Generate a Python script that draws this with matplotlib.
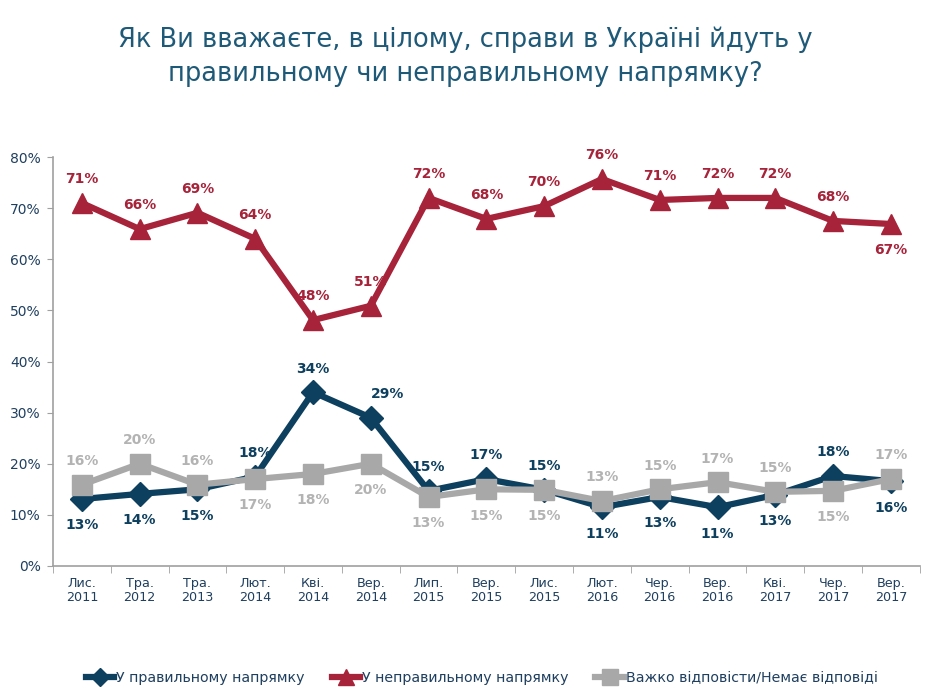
import matplotlib
matplotlib.use("Agg")
import matplotlib.pyplot as plt
from matplotlib.ticker import FixedLocator, PercentFormatter

categories = ["Лис.\n2011", "Тра.\n2012", "Тра.\n2013", "Лют.\n2014", "Кві.\n2014",
              "Вер.\n2014", "Лип.\n2015", "Вер.\n2015", "Лис.\n2015", "Лют.\n2016",
              "Чер.\n2016", "Вер.\n2016", "Кві.\n2017", "Чер.\n2017", "Вер.\n2017"]

right_vals = [13.1, 14.1, 15.0, 17.5, 34.0, 29.0, 14.7, 17.0, 14.9, 11.5, 13.5, 11.5, 13.9, 17.6, 16.6]
right_labels = [13, 14, 15, 18, 34, 29, 15, 17, 15, 11, 13, 11, 13, 18, 16]
right_pos = ["b", "b", "b", "a", "a", "ar", "a", "a", "a", "b", "b", "b", "b", "a", "b"]

wrong_vals = [71.0, 65.9, 69.1, 64.0, 48.1, 50.9, 72.0, 67.9, 70.4, 75.7, 71.6, 72.0, 72.0, 67.5, 66.9]
wrong_labels = [71, 66, 69, 64, 48, 51, 72, 68, 70, 76, 71, 72, 72, 68, 67]
wrong_pos = ["a"] * 14 + ["b"]

hard_vals = [15.9, 20.0, 15.9, 17.0, 18.0, 20.0, 13.5, 15.0, 14.9, 12.7, 15.0, 16.4, 14.5, 14.7, 17.0]
hard_labels = [16, 20, 16, 17, 18, 20, 13, 15, 15, 13, 15, 17, 15, 15, 17]
hard_pos = ["a", "a", "a", "b", "b", "b", "b", "b", "b", "a", "a", "a", "a", "b", "a"]

series_names = ["У правильному напрямку", "У неправильному напрямку",
                "Важко відповісти/Немає відповіді"]

BLUE = "#0D3F5E"
RED = "#A6233A"
GRAY = "#A8A8A8"
TXT = "#1F3F5F"
TITLE = "#1E5A78"

plt.rcParams["font.family"] = ["DejaVu Sans"]

fig = plt.figure(figsize=(9.3, 6.93), dpi=100)
ax = fig.add_axes([0.057, 0.1833, 0.932, 0.5901])

x = list(range(len(categories)))

ax.plot(x, right_vals, color=BLUE, lw=4.5, marker="D", ms=12, zorder=3,
        label=series_names[0], solid_joinstyle="miter")
ax.plot(x, wrong_vals, color=RED, lw=4.5, marker="^", ms=15, zorder=3,
        label=series_names[1], solid_joinstyle="miter")
ax.plot(x, hard_vals, color=GRAY, lw=4.5, marker="s", ms=15, zorder=4,
        label=series_names[2], solid_joinstyle="miter")

def annotate(vals, labels, pos, color):
    for i, (v, l, p) in enumerate(zip(vals, labels, pos)):
        dx = 0
        if p == "a":
            dy = 17
        elif p == "ar":
            dy = 17
            dx = 12
        else:
            dy = -19
        ax.annotate(f"{l}%", (i, v), xytext=(dx, dy), textcoords="offset points",
                    ha="center", va="center", color=color, fontsize=10,
                    fontweight="bold", zorder=6)

annotate(right_vals, right_labels, right_pos, BLUE)
annotate(wrong_vals, wrong_labels, wrong_pos, RED)
annotate(hard_vals, hard_labels, hard_pos, "#B3B3B3")

ax.set_xlim(-0.5, len(categories) - 0.5)
ax.set_ylim(0, 80)
ax.set_yticks(range(0, 81, 10))
ax.yaxis.set_major_formatter(PercentFormatter(decimals=0))
ax.set_xticks(x)
ax.set_xticklabels(categories, fontsize=9.2, color=TXT, linespacing=1.1)
ax.xaxis.set_minor_locator(FixedLocator([i - 0.5 for i in range(len(categories) + 1)]))
ax.tick_params(axis="x", which="major", length=0, pad=8)
ax.tick_params(axis="x", which="minor", length=5, color="#A0A0A0", direction="out")
ax.tick_params(axis="y", length=4, color="#A0A0A0", labelsize=10, labelcolor=TXT, pad=5)

for s in ["top", "right"]:
    ax.spines[s].set_visible(False)
for s in ["left", "bottom"]:
    ax.spines[s].set_color("#A0A0A0")
    ax.spines[s].set_linewidth(1.2)

fig.text(0.5, 0.918, "Як Ви вважаєте, в цілому, справи в Україні йдуть у\nправильному чи неправильному напрямку?",
         ha="center", va="center", fontsize=18.5, color=TITLE, linespacing=1.4)

leg = fig.legend(loc="center", bbox_to_anchor=(0.518, 0.022), ncol=3, frameon=False,
                 fontsize=10.2, handlelength=2.0, handletextpad=0.15, columnspacing=1.9,
                 markerscale=0.75)
for t in leg.get_texts():
    t.set_color(TXT)

fig.savefig("out.png", dpi=100)
